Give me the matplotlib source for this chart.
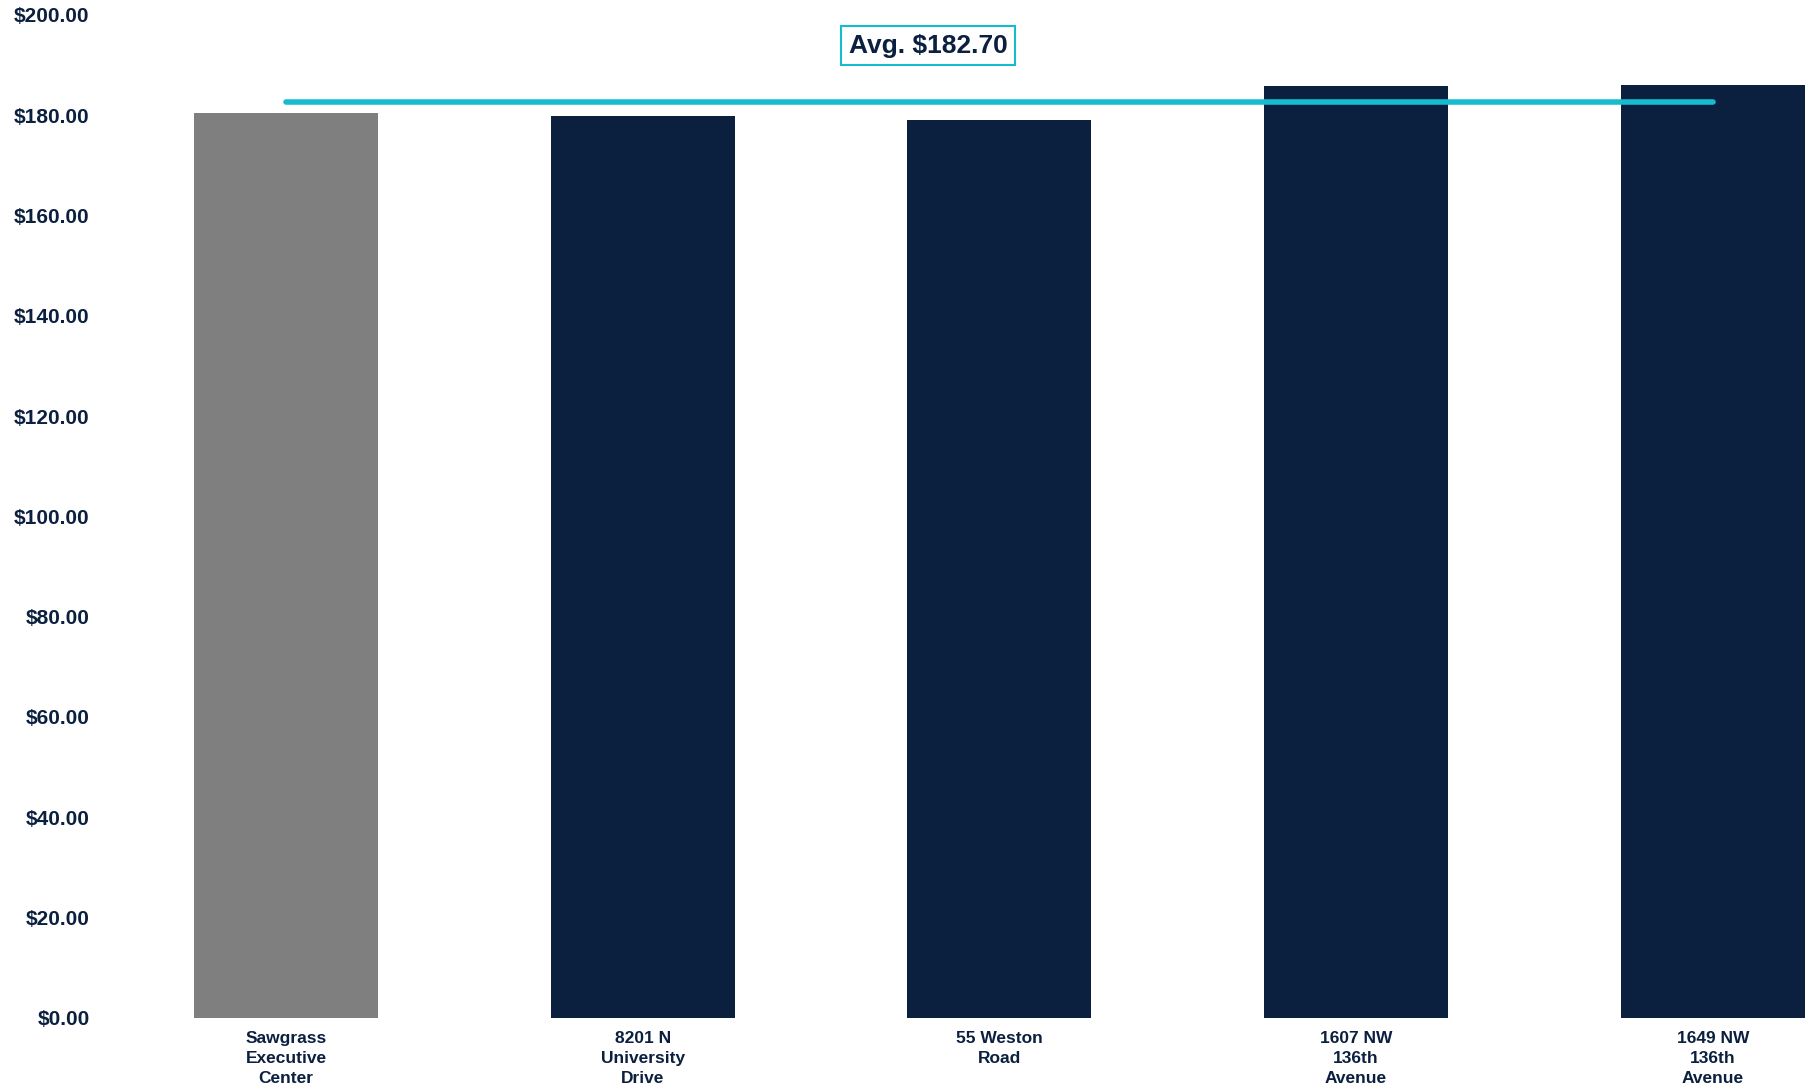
import numpy as np
import matplotlib
matplotlib.use("Agg")
import matplotlib.pyplot as plt

# Asking rent per property ($ / SF)
properties = [
    "Sawgrass\nExecutive\nCenter",
    "8201 N\nUniversity\nDrive",
    "55 Weston\nRoad",
    "1607 NW\n136th\nAvenue",
    "1649 NW\n136th\nAvenue",
]
rents = [180.45, 179.86, 179.06, 185.84, 186.04]
bar_colors = ["#7F7F7F", "#0B203F", "#0B203F", "#0B203F", "#0B203F"]
y_ticks = [0, 20, 40, 60, 80, 100, 120, 140, 160, 180, 200]

# Average of the comparable properties (subject property excluded)
avg_rent = float(np.mean(rents[1:]))

navy = "#0B1F3F"
teal = "#17BBD0"

plt.rcParams["font.family"] = ["Liberation Sans", "DejaVu Sans"]

fig = plt.figure(figsize=(18.12, 10.91), dpi=100)
ax = fig.add_axes([0.0594, 0.0672, 0.9406, 0.9191])

x = np.arange(len(properties))
ax.bar(x, rents, width=0.516, color=bar_colors, zorder=2)

ax.plot([x[0], x[-1]], [avg_rent, avg_rent], color=teal, linewidth=4,
        solid_capstyle="round", zorder=3)

ax.text(1.80, 193.9, f"Avg. ${avg_rent:.2f}", ha="center", va="center",
        fontsize=19, fontweight="bold", color=navy,
        bbox=dict(boxstyle="square,pad=0.28", facecolor="white",
                  edgecolor=teal, linewidth=1.5))

ax.set_xlim(-0.5, 4.278)
ax.set_ylim(0, 200)
ax.set_yticks(y_ticks)
ax.set_yticklabels([f"${v:.2f}" for v in y_ticks], fontsize=15,
                   fontweight="bold", color=navy)
ax.set_xticks(x)
ax.set_xticklabels(properties, fontsize=12.5, fontweight="bold", color=navy,
                   linespacing=1.42)
ax.tick_params(axis="both", length=0)
ax.tick_params(axis="y", pad=13)
ax.tick_params(axis="x", pad=9.5)
for spine in ax.spines.values():
    spine.set_visible(False)

fig.savefig("out.png", dpi=100)
